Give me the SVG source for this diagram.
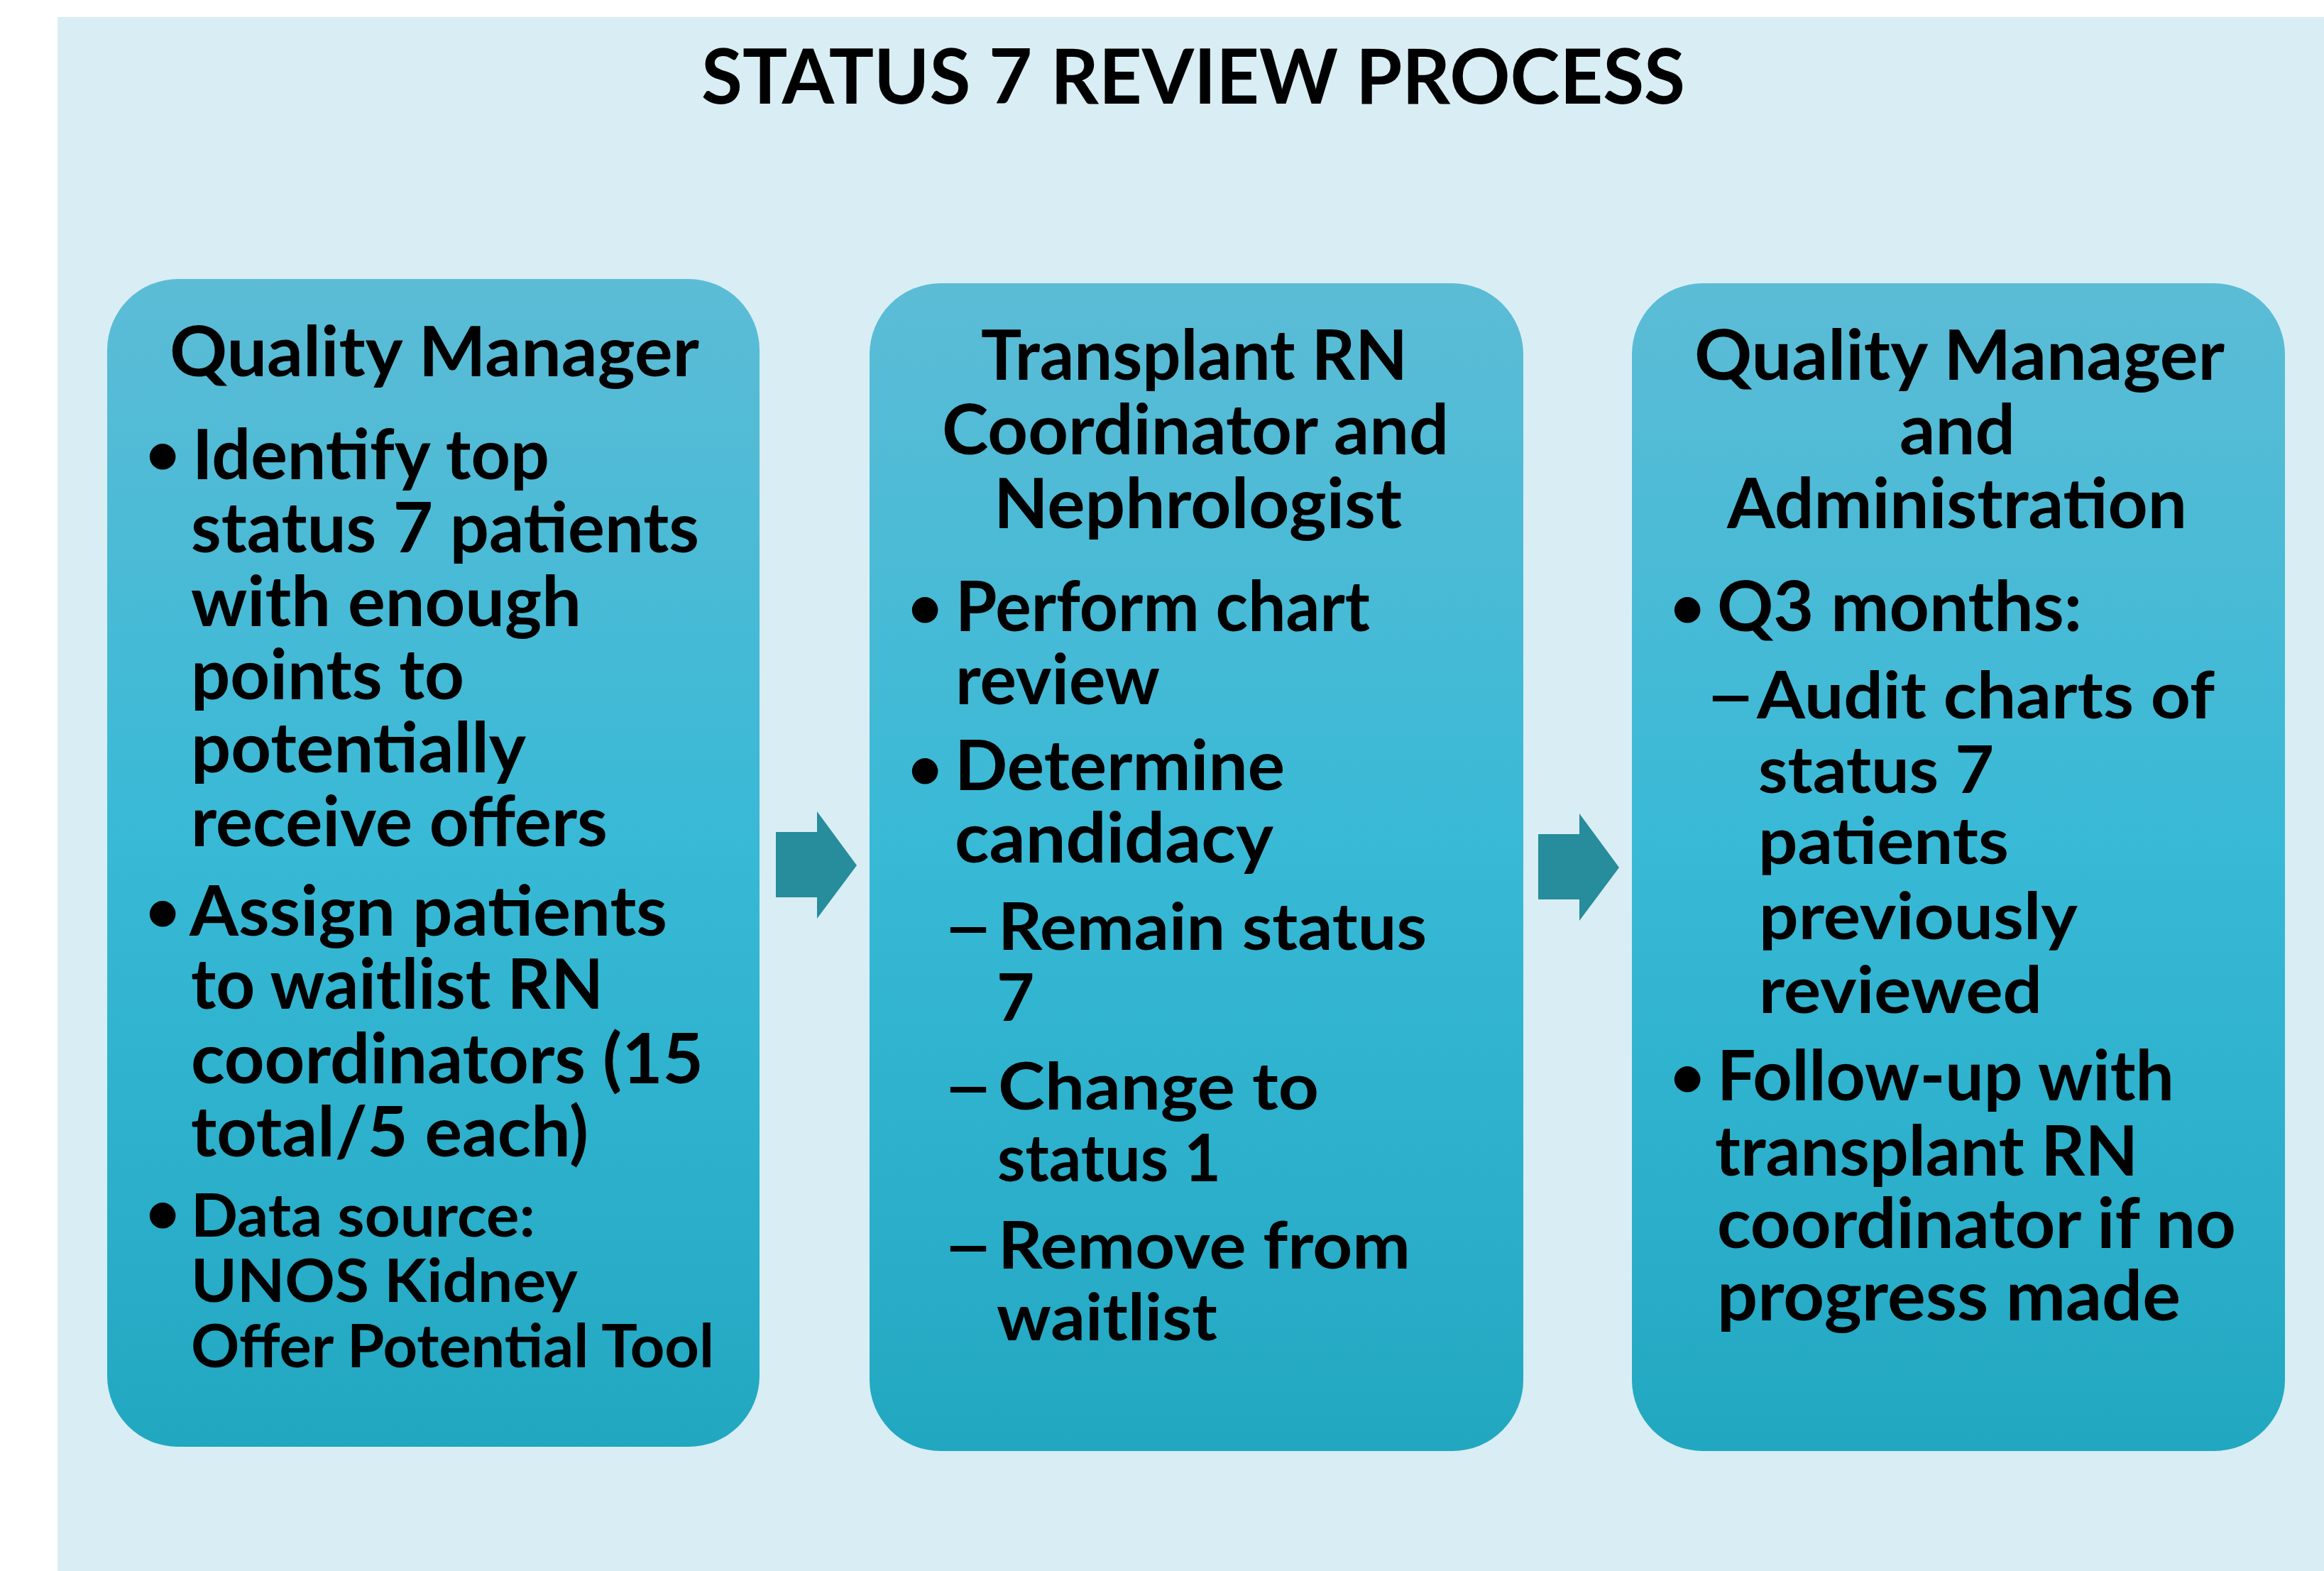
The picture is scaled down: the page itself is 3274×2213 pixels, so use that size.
<svg xmlns="http://www.w3.org/2000/svg" width="3274" height="2213" viewBox="0 0 3274 2213">
<defs>
<linearGradient id="boxFill" x1="0" y1="0" x2="0" y2="1">
<stop offset="0" stop-color="#5CBCD6"/>
<stop offset="0.5" stop-color="#37B9D6"/>
<stop offset="1" stop-color="#22A7C1"/>
</linearGradient>
<style>
.bg{fill:#D8EEF4}
.box{fill:url(#boxFill)}
.arrow{fill:#278C9C}
text{font-family:Lato,"Liberation Sans",sans-serif;font-weight:700;fill:#000}
.title{font-size:107px}
.h{font-size:98px}
.l1{font-size:98px}
.l2{font-size:92px}
.sm{font-size:84px}
.bul{font-size:84px;text-anchor:middle}
</style>
</defs>
<rect x="0" y="0" width="3274" height="2213" fill="#FFFFFF"/>
<rect class="bg" x="81" y="24" width="3193" height="2189"/>
<text class="title" x="988" y="146" textLength="1386" lengthAdjust="spacingAndGlyphs">STATUS 7 REVIEW PROCESS</text>

<g id="connectors">
<polygon class="arrow" points="1093,1172 1151,1172 1151,1143 1207,1219 1151,1294 1151,1264 1093,1264"/>
<polygon class="arrow" points="2167,1175 2225,1175 2225,1146 2281,1222 2225,1297 2225,1267 2167,1267"/>
</g>

<g id="node-quality-manager">
<rect class="box" x="151" y="393" width="919" height="1645" rx="100" ry="100"/>
<text class="h" x="239" y="530" textLength="746" lengthAdjust="spacingAndGlyphs">Quality Manager</text>
<text class="bul" x="229" y="668">•</text>
<text class="l1" x="271" y="675" textLength="503" lengthAdjust="spacingAndGlyphs">Identify top</text>
<text class="l1" x="269" y="778" textLength="716" lengthAdjust="spacingAndGlyphs">status 7 patients</text>
<text class="l1" x="269" y="882" textLength="550" lengthAdjust="spacingAndGlyphs">with enough</text>
<text class="l1" x="269" y="985" textLength="385" lengthAdjust="spacingAndGlyphs">points to</text>
<text class="l1" x="269" y="1088" textLength="472" lengthAdjust="spacingAndGlyphs">potentially</text>
<text class="l1" x="269" y="1192" textLength="587" lengthAdjust="spacingAndGlyphs">receive offers</text>
<text class="bul" x="229" y="1312">•</text>
<text class="l1" x="267" y="1318" textLength="673" lengthAdjust="spacingAndGlyphs">Assign patients</text>
<text class="l1" x="269" y="1421" textLength="581" lengthAdjust="spacingAndGlyphs">to waitlist RN</text>
<text class="l1" x="269" y="1526" textLength="722" lengthAdjust="spacingAndGlyphs">coordinators (15</text>
<text class="l1" x="269" y="1629" textLength="560" lengthAdjust="spacingAndGlyphs">total/5 each)</text>
<text class="bul" x="229" y="1737">•</text>
<text class="sm" x="269" y="1742" textLength="485" lengthAdjust="spacingAndGlyphs">Data source:</text>
<text class="sm" x="269" y="1834" textLength="545" lengthAdjust="spacingAndGlyphs">UNOS Kidney</text>
<text class="sm" x="269" y="1926" textLength="737" lengthAdjust="spacingAndGlyphs">Offer Potential Tool</text>
</g>

<g id="node-transplant-rn">
<rect class="box" x="1225" y="399" width="921" height="1645" rx="100" ry="100"/>
<text class="h" x="1382" y="535" textLength="601" lengthAdjust="spacingAndGlyphs">Transplant RN</text>
<text class="h" x="1327" y="640" textLength="714" lengthAdjust="spacingAndGlyphs">Coordinator and</text>
<text class="h" x="1400" y="744" textLength="575" lengthAdjust="spacingAndGlyphs">Nephrologist</text>
<text class="bul" x="1303" y="884">•</text>
<text class="l1" x="1346" y="889" textLength="584" lengthAdjust="spacingAndGlyphs">Perform chart</text>
<text class="l1" x="1346" y="992" textLength="288" lengthAdjust="spacingAndGlyphs">review</text>
<text class="bul" x="1303" y="1111">•</text>
<text class="l1" x="1345" y="1113" textLength="465" lengthAdjust="spacingAndGlyphs">Determine</text>
<text class="l1" x="1345" y="1215" textLength="449" lengthAdjust="spacingAndGlyphs">candidacy</text>
<text class="l2" transform="translate(1328 1338) scale(1.35 1)">–</text>
<text class="l2" x="1406" y="1338" textLength="604" lengthAdjust="spacingAndGlyphs">Remain status</text>
<text class="l2" x="1404" y="1438">7</text>
<text class="l2" transform="translate(1328 1563) scale(1.35 1)">–</text>
<text class="l2" x="1406" y="1563" textLength="452" lengthAdjust="spacingAndGlyphs">Change to</text>
<text class="l2" x="1405" y="1664" textLength="315" lengthAdjust="spacingAndGlyphs">status 1</text>
<text class="l2" transform="translate(1328 1787) scale(1.35 1)">–</text>
<text class="l2" x="1406" y="1787" textLength="581" lengthAdjust="spacingAndGlyphs">Remove from</text>
<text class="l2" x="1404" y="1888" textLength="311" lengthAdjust="spacingAndGlyphs">waitlist</text>
</g>

<g id="node-quality-admin">
<rect class="box" x="2299" y="399" width="920" height="1645" rx="100" ry="100"/>
<text class="h" x="2387" y="535" textLength="747" lengthAdjust="spacingAndGlyphs">Quality Manager</text>
<text class="h" x="2676" y="640" textLength="163" lengthAdjust="spacingAndGlyphs">and</text>
<text class="h" x="2433" y="744" textLength="648" lengthAdjust="spacingAndGlyphs">Administration</text>
<text class="bul" x="2377" y="884">•</text>
<text class="l1" x="2419" y="889" textLength="514" lengthAdjust="spacingAndGlyphs">Q3 months:</text>
<text class="l2" transform="translate(2402 1012) scale(1.35 1)">–</text>
<text class="l2" x="2475" y="1012" textLength="645" lengthAdjust="spacingAndGlyphs">Audit charts of</text>
<text class="l2" x="2477" y="1117" textLength="332" lengthAdjust="spacingAndGlyphs">status 7</text>
<text class="l2" x="2477" y="1217" textLength="353" lengthAdjust="spacingAndGlyphs">patients</text>
<text class="l2" x="2478" y="1323" textLength="449" lengthAdjust="spacingAndGlyphs">previously</text>
<text class="l2" x="2478" y="1427" textLength="399" lengthAdjust="spacingAndGlyphs">reviewed</text>
<text class="bul" x="2377" y="1545">•</text>
<text class="l1" x="2419" y="1550" textLength="644" lengthAdjust="spacingAndGlyphs">Follow-up with</text>
<text class="l1" x="2416" y="1656" textLength="596" lengthAdjust="spacingAndGlyphs">transplant RN</text>
<text class="l1" x="2419" y="1758" textLength="731" lengthAdjust="spacingAndGlyphs">coordinator if no</text>
<text class="l1" x="2419" y="1860" textLength="653" lengthAdjust="spacingAndGlyphs">progress made</text>
</g>
</svg>
